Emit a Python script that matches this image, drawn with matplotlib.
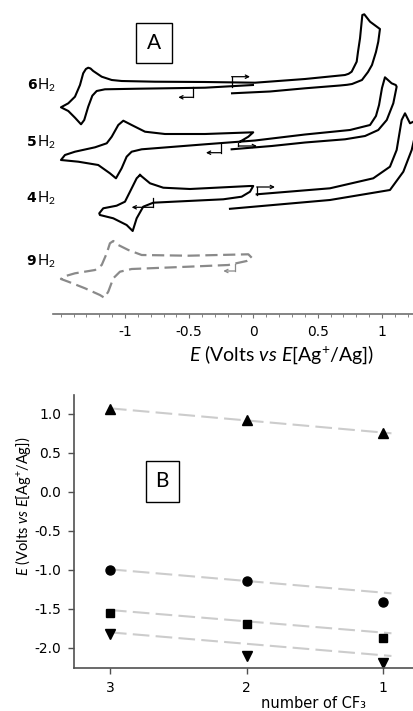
# cv_stack_and_trend.py

import numpy as np
import matplotlib.pyplot as plt
from matplotlib.patches import Rectangle
from matplotlib.transforms import offset_copy

plt.rcParams['mathtext.fontset'] = 'custom'
plt.rcParams['mathtext.rm'] = 'Lato'
plt.rcParams['mathtext.it'] = 'Lato:italic'
plt.rcParams['mathtext.bf'] = 'DejaVu Sans:bold'

# ======= PANEL A: cyclic voltammograms (E in V, current in stacked arbitrary units) =======

e_6h2 = [-0.167, 0.128, 0.401, 0.673, 0.728, 0.767, 0.844, 0.891, 0.922, 0.953, 0.971, 0.984,
         0.907, 0.862, 0.847, 0.829, 0.813, 0.803, 0.764, 0.740, 0.712, 0.401, 0.012, -0.377,
         -0.767, -1.026, -1.103, -1.181, -1.247, -1.268, -1.286, -1.304, -1.325, -1.350,
         -1.389, -1.441, -1.498, -1.441, -1.389, -1.342, -1.317, -1.286, -1.254, -1.220,
         -1.156, -0.896, -0.377, -0.004]
i_6h2 = [220.7, 222.5, 225.7, 228.5, 229.2, 230.0, 234.0, 242.0, 249.0, 262.0, 272.3, 285.0,
         292.3, 299.7, 299.0, 275.7, 262.0, 252.3, 242.3, 240.2, 239.0, 235.0, 231.3, 232.0,
         232.3, 233.0, 234.0, 237.3, 243.0, 245.5, 246.3, 245.0, 240.7, 229.0,
         217.3, 210.7, 206.7, 203.0, 196.3, 189.7, 194.0, 207.3, 218.3, 223.0,
         224.7, 225.3, 226.3, 229.0]

e_5h2 = [-0.170, 0.142, 0.401, 0.712, 0.868, 0.971, 1.037, 1.088, 1.114, 1.107, 1.075,
         1.023, 1.000, 0.977, 0.953, 0.907, 0.751, 0.401, 0.012, -0.377, -0.870, -0.948,
         -0.987, -1.026, -1.070, -1.117, -1.208, -1.363, -1.498, -1.467, -1.389, -1.233,
         -1.142, -1.103, -1.052, -1.013, -0.948, -0.844, -0.689, -0.377, -0.002, -0.040,
         -0.105]
i_5h2 = [164.7, 168.0, 171.5, 174.7, 178.0, 184.0, 194.0, 210.7, 227.3, 229.0, 230.7,
         236.7, 226.0, 209.0, 198.0, 189.0, 184.0, 179.5, 173.5, 169.7, 164.7, 162.3,
         157.3, 145.7, 135.7, 140.7, 149.0, 152.3, 154.0, 159.0, 162.3, 166.7,
         170.7, 177.3, 189.0, 193.3, 189.0, 182.3, 180.0, 180.0, 181.7, 177.3,
         172.3]

# 4H2 is drawn in two pieces (nan breaks the line)
e_4h2 = [-0.183, 0.595, 1.062, 1.166, 1.231, 1.249, 1.280, 1.244, 1.218, 1.179, 1.153,
         1.114, 1.062, 0.932, 0.595, 0.025, np.nan,
         -0.883, -0.805, -0.702, -0.494, -0.027, -0.002, -0.027, -0.092, -0.235, -0.624,
         -0.780, -0.858, -0.909, -0.940, -0.987, -1.091, -1.195, -1.200, -1.169, -1.065,
         -1.000, -0.961, -0.909, -0.883]
i_4h2 = [105.2, 114.0, 124.0, 142.3, 164.0, 174.0, 196.0, 192.3, 190.7, 200.7, 194.0,
         164.0, 147.3, 135.7, 125.7, 119.7, np.nan,
         139.0, 130.7, 126.3, 125.0, 128.0, 128.0, 122.3, 117.3, 114.7, 112.3,
         111.3, 107.3, 95.7, 83.0, 89.0, 95.7, 99.0, 100.7, 105.7, 108.3,
         112.3, 122.3, 135.7, 139.0]

e_9h2 = [-0.014, -0.040, -0.507, -0.870, -0.974, -1.052, -1.091, -1.117, -1.142, -1.181,
         -1.233, -1.389, -1.480, -1.498, -1.441, -1.311, -1.195, -1.161, -1.130, -1.091,
         -1.039, -0.948, -0.507, -0.196, -0.053, -0.014]
i_9h2 = [56.3, 59.7, 58.3, 59.0, 64.0, 69.0, 73.0, 70.7, 60.7, 49.0,
         44.0, 40.7, 37.3, 35.0, 32.3, 25.7, 19.0, 16.3, 22.3, 35.7,
         42.3, 45.0, 47.3, 49.0, 53.0, 56.3]

cv_labels = ["6", "5", "4", "9"]
label_levels = [229, 172, 116, 53]

# scan-direction arrows: (E at corner, current start, current at corner, E at tip)
arrows_black = [(-0.170, 227.3, 237.3, -0.027),
                (-0.473, 226.7, 216.7, -0.585),
                (-0.255, 170.0, 161.3, -0.370),
                (-0.118, 171.3, 168.0, 0.027),
                (-0.780, 115.7, 106.7, -0.948),
                (0.025, 119.0, 127.0, 0.167)]
arrows_gray = [(-0.144, 49.7, 43.0, -0.235)]

# ======= PANEL B: potentials vs number of CF3 groups =======

n_cf3 = [3, 2, 1]
e_tri_up = [1.06, 0.92, 0.75]
e_circle = [-1.00, -1.14, -1.41]
e_square = [-1.55, -1.69, -1.88]
e_tri_down = [-1.82, -2.10, -2.20]

guide_x = [3, 0.94]
guide_tri_up = [1.069, 0.749]
guide_circle = [-0.995, -1.303]
guide_square = [-1.517, -1.815]
guide_tri_down = [-1.803, -2.106]

W, H = 414, 711
fig = plt.figure(figsize=(W / 100, H / 100), dpi=100)

lato = ['Lato', 'DejaVu Sans']
arial = ['DejaVu Sans']

# ---- top panel ----
axA = fig.add_axes([53 / W, 1 - 314 / H, 361 / W, 314 / H])
axA.set_xlim(-1.560, 1.249)
axA.set_ylim(0, 314)
for side in ["left", "right", "top"]:
    axA.spines[side].set_visible(False)
axA.spines["bottom"].set_color("#707070")
axA.spines["bottom"].set_linewidth(1.2)
axA.set_yticks([])

axA.plot(e_6h2, i_6h2, color="black", lw=1.5, solid_joinstyle="round")
axA.plot(e_5h2, i_5h2, color="black", lw=1.5, solid_joinstyle="round")
axA.plot(e_4h2, i_4h2, color="black", lw=1.5, solid_joinstyle="round")
axA.plot(e_9h2, i_9h2, color="#8a8a8a", lw=1.6, dashes=(5.5, 2.5))

for arrows, col in [(arrows_black, "black"), (arrows_gray, "#8a8a8a")]:
    for e0, i0, i1, e1 in arrows:
        axA.plot([e0, e0], [i0, i1], color=col, lw=0.9)
        axA.annotate("", xy=(e1, i1), xytext=(e0, i1),
                     arrowprops=dict(arrowstyle="->", color=col, lw=0.9,
                                     mutation_scale=6, shrinkA=0, shrinkB=0))

# compound labels: bold number followed by H2
h_shift = offset_copy(axA.transData, fig=fig, x=7.3, y=0, units="points")
for num, lev in zip(cv_labels, label_levels):
    axA.text(-1.765, lev, num, family="DejaVu Sans", fontsize=10, fontweight="bold",
             va="center", ha="left", clip_on=False)
    axA.text(-1.765, lev, "H$_2$", family=lato, fontsize=10.5, transform=h_shift,
             va="center", ha="left", clip_on=False)

axA.set_xticks([-1, -0.5, 0, 0.5, 1])
axA.set_xticklabels(["-1", "-0.5", "0", "0.5", "1"], family=arial, fontsize=10)
axA.set_xticks(np.arange(-1.5, 1.25, 0.1), minor=True)
axA.tick_params(axis="x", which="major", length=3, width=0.8, color="#707070", pad=5)
axA.tick_params(axis="x", which="minor", length=2, width=0.6, color="#707070")
axA.set_xlabel(r"$\mathit{E}$ (Volts $\mathit{vs}$ $\mathit{E}$[Ag$^{+}$/Ag])",
               family=lato, fontsize=14)
axA.xaxis.set_label_coords(0.634, -0.13)
axA.xaxis.label.set_va("center")

fig.add_artist(Rectangle((136 / W, 1 - 63.3 / H), 36 / W, 40.6 / H,
                         transform=fig.transFigure, fill=False, ec="black", lw=1.0))
fig.text(154 / W, 1 - 43 / H, "A", family=lato, fontsize=15, ha="center", va="center")

# ---- bottom panel ----
axB = fig.add_axes([74 / W, 1 - 668.3 / H, 340 / W, 273.3 / H])
axB.set_xlim(3.263, 0.775)
axB.set_ylim(-2.264, 1.240)
for side in ["right", "top"]:
    axB.spines[side].set_visible(False)
for side in ["left", "bottom"]:
    axB.spines[side].set_color("#505050")
    axB.spines[side].set_linewidth(1.2)

guide_kw = dict(color="#cccccc", lw=1.5, dashes=(8, 3))
axB.plot(guide_x, guide_tri_up, **guide_kw)
axB.plot(guide_x, guide_circle, **guide_kw)
axB.plot(guide_x, guide_square, **guide_kw)
axB.plot(guide_x, guide_tri_down, **guide_kw)

axB.plot(n_cf3, e_tri_up, "^", color="black", ms=7, ls="none")
axB.plot(n_cf3, e_circle, "o", color="black", ms=6.5, ls="none")
axB.plot(n_cf3, e_square, "s", color="black", ms=6, ls="none")
axB.plot(n_cf3, e_tri_down, "v", color="black", ms=7, ls="none")

yt = [1.0, 0.5, 0.0, -0.5, -1.0, -1.5, -2.0]
axB.set_yticks(yt)
axB.set_yticklabels(["%.1f" % v for v in yt], family=arial, fontsize=10)
axB.set_xticks(n_cf3)
axB.set_xticklabels([str(n) for n in n_cf3], family=arial, fontsize=10)
axB.tick_params(axis="both", length=4, width=1.0, color="#505050", pad=5)

axB.set_xlabel("number of CF₃", family=arial, fontsize=10.5)
axB.xaxis.set_label_coords(0.704, -0.100)
axB.set_ylabel(r"$\mathit{E}$ (Volts $\mathit{vs}$ $\mathit{E}$[Ag$^{+}$/Ag])",
               family=lato, fontsize=10.5)
axB.yaxis.set_label_coords(-0.151, 0.591)
axB.yaxis.label.set_va("center")

fig.add_artist(Rectangle((145.7 / W, 1 - 501.7 / H), 33.3 / W, 40.7 / H,
                         transform=fig.transFigure, fill=False, ec="black", lw=1.0))
fig.text(162.3 / W, 1 - 481.3 / H, "B", family=lato, fontsize=15, ha="center", va="center")

fig.savefig("out.png", dpi=100)
